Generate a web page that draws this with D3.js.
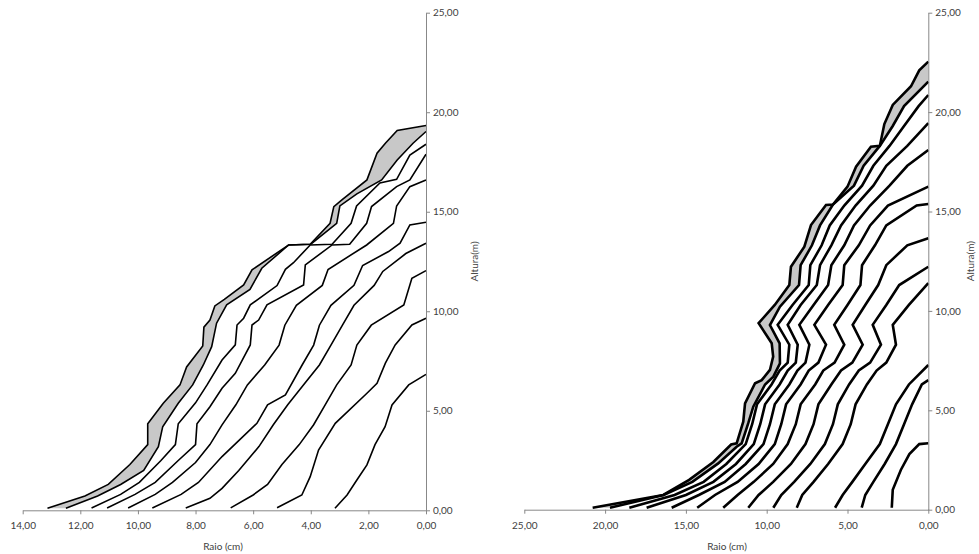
<!DOCTYPE html>
<html>
<head>
<meta charset="utf-8">
<script src="https://cdn.jsdelivr.net/npm/d3@7"></script>
<style>
  body { margin: 0; background: #fff; }
  text { font-family: Lato, "Open Sans", sans-serif; }
</style>
</head>
<body>
<div id="chart"></div>
<script>
// ring profiles, [raio (cm), altura (m)], outermost first
const leftRings = [
  [[13.14,0.1],[11.84,0.72],[11.03,1.3],[10.28,2.3],[9.66,3.3],[9.66,4.35],[9.12,5.38],[8.54,6.3],[8.31,7.2],[7.75,8.26],[7.71,9.2],[7.5,9.56],[7.33,10.27],[7.0,10.6],[6.33,11.32],[6.04,12.08],[4.77,13.33],[4.02,13.37],[3.33,14.42],[3.2,15.26],[2.92,15.6],[2.05,16.6],[1.7,17.94],[1.41,18.44],[1.0,19.08],[0,19.33]],
  [[12.5,0.1],[11.4,0.72],[10.6,1.3],[9.8,2.0],[9.29,3.2],[9.14,4.2],[8.6,5.38],[8.1,6.3],[7.73,7.3],[7.44,8.22],[7.27,9.4],[6.92,10.32],[6.11,11.1],[5.7,12.16],[4.77,13.33],[4.0,13.37],[3.1,14.42],[2.99,15.29],[2.4,15.9],[1.54,16.6],[1.0,17.6],[0.45,18.44],[0,19.03]],
  [[11.61,0.12],[10.6,0.8],[9.95,1.4],[9.2,2.5],[8.7,3.3],[8.6,4.35],[8.0,5.4],[7.6,6.3],[7.08,7.55],[6.62,8.31],[6.56,9.31],[6.33,9.65],[6.1,10.32],[5.17,11.29],[4.88,12.11],[4.6,12.44],[4.02,13.33],[3.26,13.37],[2.6,14.42],[2.41,15.29],[1.6,16.45],[1.02,16.63],[0.56,17.85],[0,18.39]],
  [[11.07,0.12],[10.1,0.8],[9.4,1.4],[8.6,2.5],[8.0,3.3],[7.95,4.35],[7.5,5.2],[7.08,6.13],[6.62,6.88],[6.1,8.31],[6.04,9.31],[5.81,9.56],[5.52,10.32],[4.25,11.32],[4.19,12.33],[3.26,13.33],[2.65,13.37],[2.06,14.42],[1.89,15.26],[1.02,16.26],[0.56,16.6],[0,17.89]],
  [[10.34,0.12],[9.4,0.8],[8.8,1.4],[8.0,2.4],[7.5,3.3],[7.08,4.29],[6.6,5.3],[6.2,6.3],[5.6,7.3],[5.1,8.3],[4.9,9.3],[4.5,10.3],[3.6,11.3],[3.4,12.1],[2.06,13.33],[1.13,14.42],[1.02,15.29],[0.56,16.26],[0,16.6]],
  [[9.5,0.12],[8.5,0.8],[7.9,1.4],[7.08,2.7],[6.5,3.5],[5.87,4.37],[5.5,5.3],[4.88,5.8],[4.3,7.3],[3.9,8.3],[3.7,9.3],[3.3,10.3],[2.5,11.3],[2.2,12.3],[1.3,13.0],[0.9,13.42],[0.56,14.34],[0,14.47]],
  [[8.34,0.12],[7.5,0.6],[7.08,1.1],[6.5,2.0],[5.8,3.2],[5.3,4.3],[4.8,5.3],[4.2,6.4],[3.7,7.3],[3.3,8.3],[2.9,9.3],[2.5,10.3],[1.8,11.3],[1.5,12.0],[0.7,12.9],[0,13.42]],
  [[6.78,0.12],[6.0,0.77],[5.5,1.3],[5.0,2.3],[4.4,3.3],[3.9,4.3],[3.5,5.3],[3.1,6.3],[2.6,7.3],[2.4,8.3],[1.9,9.3],[0.77,10.32],[0.49,11.66],[0,12.04]],
  [[5.17,0.13],[4.31,0.77],[4.02,1.69],[3.73,3.03],[3.15,4.37],[2.05,5.88],[1.7,6.38],[1.41,7.39],[1.07,8.31],[0.49,9.31],[0,9.65]],
  [[3.16,0.1],[2.74,0.77],[2.4,1.52],[2.05,2.28],[1.77,3.3],[1.42,4.2],[1.18,5.29],[0.6,6.3],[0,6.83]]
];

const rightRings = [
  [[20.77,0.1],[16.4,0.74],[14.8,1.5],[13.3,2.4],[12.2,3.28],[11.86,3.34],[11.45,4.43],[11.34,5.35],[10.72,6.36],[10.31,6.52],[9.8,7.03],[9.6,7.7],[9.69,8.37],[10.5,9.38],[9.5,10.3],[8.6,11.3],[8.5,12.22],[7.67,13.23],[7.26,14.32],[6.33,15.33],[5.9,15.35],[5.0,16.25],[4.47,17.25],[3.55,18.26],[3.0,18.3],[2.72,19.4],[2.2,20.36],[1.07,21.3],[0.56,22.1],[0,22.54]],
  [[19.7,0.1],[16.38,0.74],[14.6,1.4],[13.0,2.33],[11.86,3.17],[11.55,3.34],[11.14,4.35],[10.83,5.18],[10.1,6.3],[9.59,6.69],[9.18,7.36],[9.2,8.37],[9.8,9.29],[9.18,10.21],[8.0,11.3],[7.9,12.3],[7.2,13.3],[6.7,14.3],[5.9,15.35],[4.6,16.3],[4.0,17.3],[3.0,18.3],[2.2,19.3],[1.5,20.3],[0,21.53]],
  [[18.5,0.1],[15.7,0.74],[13.9,1.4],[12.5,2.3],[11.3,3.3],[10.9,4.3],[10.6,5.3],[9.7,6.3],[9.2,7.0],[8.7,7.4],[8.6,8.3],[9.32,9.3],[8.4,10.3],[7.4,11.3],[7.3,12.3],[6.6,13.3],[6.1,14.3],[5.2,15.3],[4.1,16.3],[3.4,17.3],[2.4,18.3],[1.5,19.3],[0.6,20.3],[0,20.86]],
  [[17.43,0.1],[15.0,0.74],[13.3,1.4],[11.9,2.3],[10.8,3.3],[10.4,4.3],[10.1,5.3],[9.2,6.3],[8.7,7.0],[8.2,7.4],[8.08,8.3],[8.7,9.3],[7.9,10.3],[6.9,11.3],[6.7,12.3],[6.0,13.3],[5.4,14.3],[4.5,15.3],[3.4,16.3],[2.6,17.3],[1.3,18.3],[0,19.44]],
  [[15.88,0.1],[14.2,0.74],[12.6,1.4],[11.3,2.3],[10.2,3.3],[9.8,4.3],[9.5,5.3],[8.6,6.3],[8.1,7.0],[7.6,7.4],[7.36,8.3],[7.98,9.3],[7.1,10.3],[6.2,11.3],[6.0,12.3],[5.2,13.3],[4.6,14.3],[3.6,15.3],[2.4,16.3],[1.3,17.3],[0,18.09]],
  [[14.3,0.1],[13.2,0.74],[11.8,1.4],[10.5,2.3],[9.5,3.3],[9.1,4.3],[8.8,5.3],[7.9,6.3],[7.4,7.0],[6.8,7.4],[6.33,8.3],[7.05,9.3],[6.2,10.3],[5.3,11.3],[5.2,12.3],[4.3,13.3],[3.6,14.3],[2.5,15.3],[0,16.25]],
  [[12.69,0.1],[11.8,0.74],[10.8,1.4],[9.6,2.3],[8.7,3.3],[8.2,4.3],[7.9,5.3],[7.0,6.3],[6.5,7.0],[5.8,7.4],[5.2,8.3],[5.82,9.3],[5.0,10.3],[4.2,11.3],[4.1,12.3],[3.3,13.3],[2.6,14.3],[0.72,15.3],[0,15.38]],
  [[11.14,0.1],[10.5,0.74],[9.6,1.4],[8.5,2.3],[7.6,3.3],[7.1,4.3],[6.8,5.3],[6.0,6.3],[5.4,7.0],[4.7,7.4],[4.06,8.3],[4.68,9.3],[3.9,10.3],[3.1,11.3],[2.6,12.3],[1.3,13.3],[0,13.65]],
  [[9.59,0.1],[9.1,0.74],[8.3,1.4],[7.3,2.3],[6.4,3.3],[5.9,4.3],[5.6,5.3],[4.9,6.3],[4.3,7.0],[3.6,7.4],[2.93,8.3],[3.44,9.3],[2.6,10.3],[1.8,11.3],[0,12.22]],
  [[8.14,0.1],[7.8,0.74],[7.1,1.4],[6.2,2.3],[5.3,3.3],[4.8,4.3],[4.5,5.3],[3.8,6.3],[3.2,7.0],[2.6,7.4],[2.0,8.3],[2.2,9.3],[1.2,10.3],[0,11.4]],
  [[5.77,0.1],[5.3,0.74],[4.7,1.4],[3.9,2.3],[3.0,3.3],[2.5,4.3],[2.0,5.3],[1.2,6.3],[0,7.28]],
  [[4.12,0.1],[3.9,0.74],[3.4,1.4],[2.7,2.3],[2.0,3.3],[1.5,4.3],[1.0,5.3],[0.4,6.3],[0,6.52]],
  [[2.26,0.1],[2.2,1.0],[1.7,2.0],[1.17,2.8],[0.56,3.3],[0,3.34]]
];

const leftXTicks = [14, 12, 10, 8, 6, 4, 2, 0];
const rightXTicks = [25, 20, 15, 10, 5, 0];
const yTicks = [0, 5, 10, 15, 20, 25];

const W = 979, H = 554;
const svg = d3.select("#chart").append("svg")
  .attr("width", W).attr("height", H);

const fmt = v => d3.format(".2f")(v).replace(".", ",");

function panel(rings, xMax, xTicks, x0, x1, yBottom, lineW, titleX, altX) {
  const x = d3.scaleLinear().domain([xMax, 0]).range([x0, x1]);
  const y = d3.scaleLinear().domain([0, 25]).range([yBottom, 12.7]);
  const g = svg.append("g");

  // gray band between the last two rings
  const band = rings[0].concat(rings[1].slice().reverse());
  g.append("path")
    .attr("d", d3.line().x(d => x(d[0])).y(d => y(d[1]))(band) + "Z")
    .attr("fill", "#c8c8c8")
    .attr("stroke", "none");

  g.selectAll("path.ring")
    .data(rings)
    .join("path")
      .attr("class", "ring")
      .attr("d", d3.line().x(d => x(d[0])).y(d => y(d[1])))
      .attr("fill", "none")
      .attr("stroke", "#000")
      .attr("stroke-width", lineW)
      .attr("stroke-linejoin", "miter");

  const xa = g.append("g")
    .attr("transform", `translate(0,${yBottom})`)
    .call(d3.axisBottom(x).tickValues(xTicks).tickFormat(fmt).tickSize(4).tickPadding(8).tickSizeOuter(0));
  const ya = g.append("g")
    .attr("transform", `translate(${x1},0)`)
    .call(d3.axisRight(y).tickValues(yTicks).tickFormat(fmt).tickSize(4).tickPadding(3).tickSizeOuter(0));
  [xa, ya].forEach(a => {
    a.select(".domain").attr("stroke", "#888");
    a.selectAll(".tick line").attr("stroke", "#888");
    a.selectAll(".tick text").attr("fill", "#404040").style("font-size", "10px")
      .style("font-family", "Lato, 'Open Sans', sans-serif");
  });

  g.append("text")
    .attr("x", titleX).attr("y", 550)
    .attr("text-anchor", "middle")
    .attr("fill", "#404040")
    .style("font-size", "10px")
    .text("Raio (cm)");

  g.append("text")
    .attr("transform", `translate(${altX},${(yBottom + 12.7) / 2}) rotate(-90)`)
    .attr("text-anchor", "middle")
    .attr("fill", "#404040")
    .style("font-size", "10px")
    .text("Altura(m)");
}

panel(leftRings, 14, leftXTicks, 22.7, 426, 510.3, 1.6, 223, 478);
panel(rightRings, 25, rightXTicks, 524.3, 928.3, 509.7, 2.6, 727, 974);
</script>
</body>
</html>
